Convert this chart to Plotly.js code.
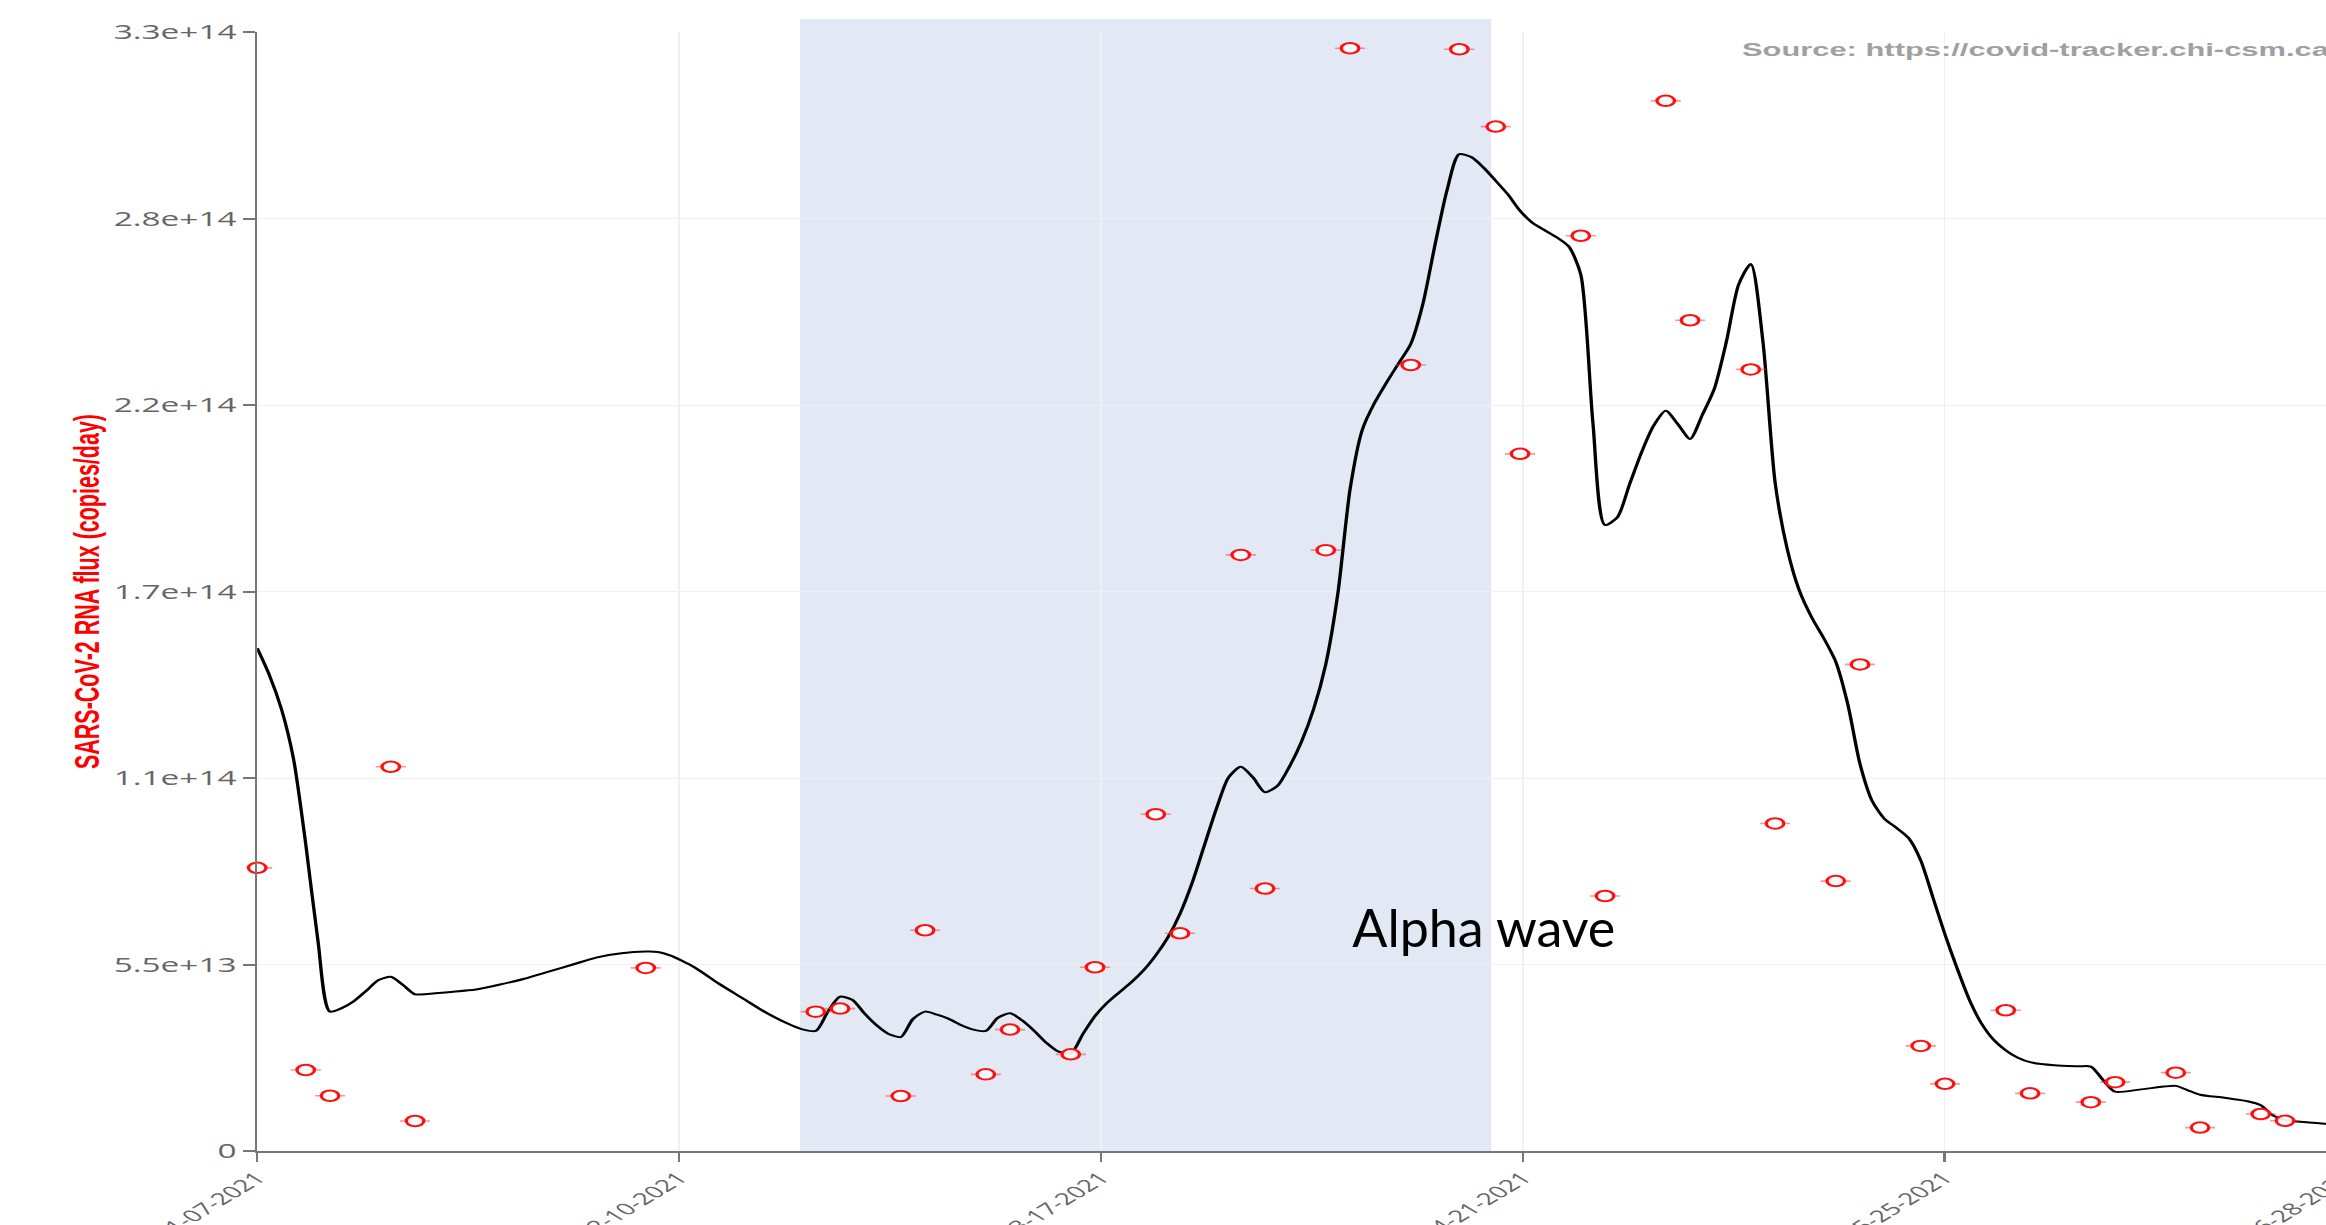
<!DOCTYPE html>
<html>
<head>
<meta charset="utf-8">
<script src="https://cdn.plot.ly/plotly-3.0.1.min.js"></script>
<style>
html, body { margin: 0; padding: 0; overflow: hidden; background: #ffffff; width: 2326px; height: 1225px; }
#chart { width: 1459px; height: 1225px; transform: scaleX(1.67); transform-origin: 0 0; }
</style>
</head>
<body>
<div id="chart"></div>
<script>
// ---- data ----
const curveDates = [
  '2021-01-07','2021-01-08','2021-01-09','2021-01-10','2021-01-11','2021-01-12','2021-01-13','2021-01-14',
  '2021-01-15','2021-01-16','2021-01-17','2021-01-18','2021-01-19','2021-01-20','2021-01-21','2021-01-23',
  '2021-01-25','2021-01-27','2021-01-29','2021-01-31','2021-02-02','2021-02-04','2021-02-06','2021-02-08',
  '2021-02-09','2021-02-10','2021-02-12','2021-02-14','2021-02-16','2021-02-18','2021-02-20','2021-02-21',
  '2021-02-22','2021-02-23','2021-02-24','2021-02-25','2021-02-26','2021-02-27','2021-02-28',
  '2021-03-01','2021-03-02','2021-03-03','2021-03-04','2021-03-05','2021-03-06','2021-03-07','2021-03-08',
  '2021-03-09','2021-03-10','2021-03-11','2021-03-12','2021-03-13','2021-03-14','2021-03-15','2021-03-16',
  '2021-03-17','2021-03-18','2021-03-19','2021-03-20','2021-03-21','2021-03-22','2021-03-23','2021-03-24',
  '2021-03-25','2021-03-26','2021-03-27','2021-03-28','2021-03-29','2021-03-30','2021-03-31',
  '2021-04-01','2021-04-02','2021-04-03','2021-04-04','2021-04-05','2021-04-06','2021-04-07','2021-04-08',
  '2021-04-09','2021-04-10','2021-04-11','2021-04-12','2021-04-13','2021-04-14','2021-04-15','2021-04-16',
  '2021-04-17','2021-04-18','2021-04-19','2021-04-20','2021-04-21','2021-04-22','2021-04-23','2021-04-24',
  '2021-04-25','2021-04-26','2021-04-27','2021-04-28','2021-04-29','2021-04-30',
  '2021-05-01','2021-05-02','2021-05-03','2021-05-04','2021-05-05','2021-05-06','2021-05-07','2021-05-08',
  '2021-05-09','2021-05-10','2021-05-11','2021-05-12','2021-05-13','2021-05-14','2021-05-15','2021-05-16',
  '2021-05-17','2021-05-18','2021-05-19','2021-05-20','2021-05-21','2021-05-22','2021-05-23','2021-05-24',
  '2021-05-25','2021-05-26','2021-05-27','2021-05-28','2021-05-29','2021-05-30','2021-05-31',
  '2021-06-01','2021-06-02','2021-06-04','2021-06-06','2021-06-07','2021-06-08','2021-06-09','2021-06-11',
  '2021-06-13','2021-06-14','2021-06-15','2021-06-16','2021-06-18','2021-06-20','2021-06-21','2021-06-22',
  '2021-06-23','2021-06-24','2021-06-26','2021-06-27','2021-06-28'
];
const curveValues = [
  14.83e13,14.04e13,13.03e13,11.55e13,9.05e13,6.21e13,4.11e13,4.22e13,
  4.43e13,4.73e13,5.04e13,5.14e13,4.90e13,4.62e13,4.63e13,4.69e13,
  4.76e13,4.91e13,5.08e13,5.29e13,5.50e13,5.71e13,5.83e13,5.88e13,
  5.87e13,5.77e13,5.42e13,4.94e13,4.50e13,4.06e13,3.71e13,3.58e13,
  3.54e13,4.11e13,4.55e13,4.46e13,4.06e13,3.71e13,3.45e13,
  3.36e13,3.89e13,4.11e13,4.02e13,3.89e13,3.71e13,3.58e13,3.54e13,
  3.93e13,4.06e13,3.85e13,3.54e13,3.19e13,2.93e13,2.88e13,3.45e13,
  3.98e13,4.37e13,4.68e13,4.98e13,5.33e13,5.77e13,6.30e13,7.00e13,
  7.91e13,9.01e13,10.10e13,11.02e13,11.33e13,11.02e13,10.58e13,
  10.76e13,11.33e13,12.07e13,13.03e13,14.35e13,16.45e13,19.51e13,21.26e13,
  22.05e13,22.66e13,23.23e13,23.80e13,24.98e13,26.73e13,28.35e13,29.40e13,
  29.31e13,29.00e13,28.61e13,28.21e13,27.73e13,27.38e13,27.16e13,26.95e13,
  26.68e13,25.85e13,21.48e13,18.46e13,18.68e13,19.64e13,
  20.60e13,21.39e13,21.83e13,21.43e13,21.00e13,21.70e13,22.48e13,23.88e13,
  25.55e13,26.16e13,23.88e13,19.73e13,17.76e13,16.53e13,15.75e13,15.13e13,
  14.43e13,13.16e13,11.41e13,10.32e13,9.80e13,9.53e13,9.23e13,8.57e13,
  7.48e13,6.38e13,5.38e13,4.46e13,3.76e13,3.28e13,2.97e13,
  2.75e13,2.62e13,2.53e13,2.50e13,2.49e13,2.10e13,1.75e13,1.81e13,
  1.90e13,1.92e13,1.79e13,1.66e13,1.57e13,1.46e13,1.35e13,1.05e13,
  0.91e13,0.87e13,0.81e13,0.78e13,0.76e13
];
const sampleDates = [
  '2021-01-07','2021-01-11','2021-01-13','2021-01-18','2021-01-20','2021-02-08',
  '2021-02-22','2021-02-24','2021-03-01','2021-03-03','2021-03-08','2021-03-10',
  '2021-03-15','2021-03-17','2021-03-22','2021-03-24','2021-03-29','2021-03-31',
  '2021-04-05','2021-04-07','2021-04-12','2021-04-16','2021-04-19','2021-04-21',
  '2021-04-26','2021-04-28','2021-05-03','2021-05-05','2021-05-10','2021-05-12',
  '2021-05-17','2021-05-19','2021-05-24','2021-05-26','2021-05-31','2021-06-02',
  '2021-06-07','2021-06-09','2021-06-14','2021-06-16','2021-06-21','2021-06-23'
];
const sampleValues = [
  8.35e13,2.39e13,1.63e13,11.33e13,0.885e13,5.40e13,
  4.11e13,4.20e13,1.62e13,6.51e13,2.26e13,3.58e13,
  2.85e13,5.42e13,9.93e13,6.42e13,17.58e13,7.74e13,
  17.72e13,32.52e13,23.18e13,32.49e13,30.21e13,20.56e13,
  26.99e13,7.52e13,30.97e13,24.50e13,23.05e13,9.66e13,
  7.96e13,14.35e13,3.10e13,1.98e13,4.15e13,1.70e13,
  1.44e13,2.03e13,2.31e13,0.69e13,1.09e13,0.89e13
];
const yTickValues = [0, 5.5e13, 1.1e14, 1.65e14, 2.2e14, 2.75e14, 3.3e14];
const yTickLabels = ['0', '5.5e+13', '1.1e+14', '1.7e+14', '2.2e+14', '2.8e+14', '3.3e+14'];
const xTickDates = ['2021-01-07', '2021-02-10 18:00', '2021-03-17 12:00', '2021-04-21 06:00', '2021-05-25 23:00', '2021-06-28'];
const xTickLabels = ['01-07-2021', '02-10-2021', '03-17-2021', '04-21-2021', '05-25-2021', '06-28-2021'];
const alphaStart = '2021-02-20 17:00';
const alphaEnd = '2021-04-18 15:00';
const xRange = ['2021-01-07', '2021-07-03'];
const yRange = [0, 3.3e14];

// ---- drawing ----
const STRETCH = 1.67;

const curveTrace = {
  type: 'scatter', mode: 'lines',
  x: curveDates, y: curveValues,
  line: { color: '#000000', width: 2, shape: 'spline', smoothing: 0.7 },
  hoverinfo: 'skip', showlegend: false
};
const sampleTrace = {
  type: 'scatter', mode: 'markers',
  x: sampleDates, y: sampleValues,
  cliponaxis: false,
  marker: { symbol: 'circle', size: 10.5, color: 'rgba(255,255,255,0.9)', line: { width: 2, color: '#ff1010' } },
  error_y: { type: 'constant', value: 0, width: 9, thickness: 1.6, color: 'rgba(255,60,60,0.55)' },
  showlegend: false
};

const gridCol = '#f0f0f0';
const axisCol = '#777777';
const yTickFont = { family: 'Open Sans, sans-serif', size: 20, color: '#666666' };
const xTickFont = { family: 'Open Sans, sans-serif', size: 16.5, color: '#666666' };

const layout = {
  width: 1459, height: 1225,
  margin: { l: 154, r: 18, t: 32, b: 74, pad: 0 },
  paper_bgcolor: '#ffffff', plot_bgcolor: '#ffffff',
  showlegend: false,
  xaxis: {
    type: 'date', range: xRange, automargin: false,
    tickmode: 'array', tickvals: xTickDates, ticktext: xTickLabels,
    tickangle: -45, tickfont: xTickFont,
    ticks: 'outside', ticklen: 9, tickwidth: 1.3, tickcolor: axisCol,
    showline: true, linecolor: axisCol, linewidth: 2,
    showgrid: true, gridcolor: gridCol, gridwidth: 1, zeroline: false
  },
  yaxis: {
    range: yRange, automargin: false,
    tickmode: 'array', tickvals: yTickValues, ticktext: yTickLabels,
    tickfont: yTickFont,
    ticks: 'outside', ticklen: 7, tickwidth: 2, tickcolor: axisCol,
    showline: true, linecolor: axisCol, linewidth: 1.3,
    showgrid: true, gridcolor: gridCol, gridwidth: 1, zeroline: false,
    title: {
      text: 'SARS-CoV-2 RNA flux (copies/day)',
      font: { family: 'Liberation Sans, Arial, sans-serif', size: 21.5, color: '#ff0000', weight: 700 },
      standoff: 2
    }
  },
  shapes: [{
    type: 'rect', layer: 'below',
    xref: 'x', yref: 'paper',
    x0: alphaStart, x1: alphaEnd, y0: 0, y1: 1.0116,
    fillcolor: '#e2e8f4', line: { width: 0 }
  }],
  annotations: [
    {
      text: 'Source: https://covid-tracker.chi-csm.ca/',
      xref: 'paper', yref: 'paper', x: 0.689, y: 0.984,
      xanchor: 'left', yanchor: 'middle', showarrow: false,
      font: { family: 'Liberation Sans, Arial, sans-serif', size: 18.5, color: '#a0a0a0', weight: 700 }
    },
    {
      text: 'Alpha wave',
      xref: 'x', yref: 'y', x: '2021-04-18', y: 6.6e13,
      xanchor: 'center', yanchor: 'middle', showarrow: false,
      font: { family: 'Lato, Open Sans, sans-serif', size: 52, color: '#000000' }
    }
  ]
};

Plotly.newPlot('chart', [curveTrace, sampleTrace], layout, { displayModeBar: false, staticPlot: true })
  .then(function (gd) {
    // the reference photo is stretched sideways except for the "Alpha wave" label;
    // undo the stretch for that one label only
    gd.querySelectorAll('.annotation').forEach(function (g) {
      if (g.textContent.indexOf('Alpha wave') !== -1) {
        g.style.transformBox = 'fill-box';
        g.style.transformOrigin = 'center';
        g.style.transform = 'scaleX(' + (1 / STRETCH) + ')';
      }
    });
  });
</script>
</body>
</html>
